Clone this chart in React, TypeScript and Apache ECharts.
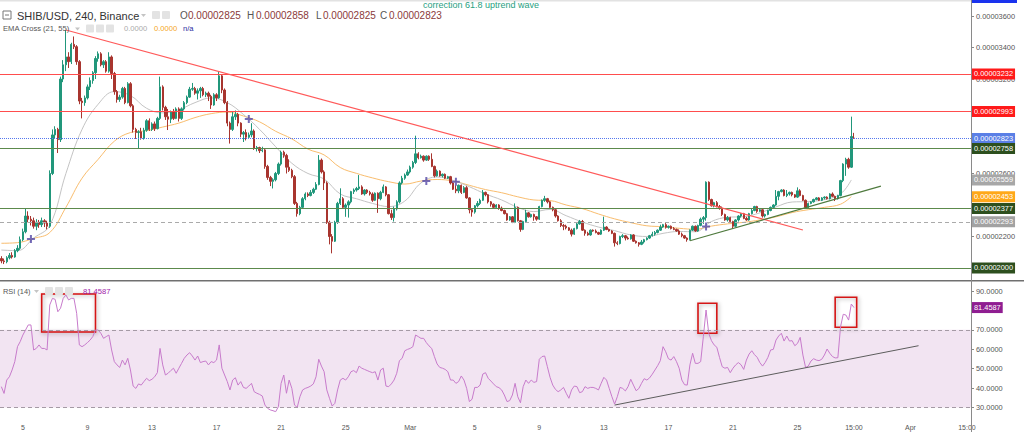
import React, { useEffect, useRef } from "react";
import * as echarts from "echarts";

// ---------- DATA (prices in units of 1e-8 USD) ----------
const opens = [
2060,2045,2040,2065,2080,2070,2110,2125,2180,2230,
2330,2310,2300,2265,2290,2275,2300,2285,2265,2600,
2845,2880,2815,3200,3290,3340,3310,3420,3405,3310,
3060,3050,3080,3150,3190,3240,3330,3360,3290,3310,
3250,3340,3235,3120,3070,3085,3140,3050,3170,3030,
2880,2860,2865,2825,2875,2935,2880,2915,2885,2950,
3150,3020,2960,2945,2990,2950,3010,2950,3010,3050,
3085,3135,3140,3110,3125,3140,3100,3110,3090,3035,
3100,3080,3220,3130,3050,2920,2880,2960,2975,2920,
2850,2860,2830,2845,2870,2760,2765,2745,2750,2645,
2575,2550,2560,2600,2660,2735,2715,2640,2620,2580,
2410,2345,2385,2440,2470,2460,2480,2500,2530,2685,
2610,2540,2290,2200,2170,2290,2410,2440,2385,2400,
2420,2485,2495,2505,2515,2470,2495,2480,2470,2430,
2475,2440,2480,2515,2465,2345,2320,2375,2420,2540,
2570,2590,2610,2640,2670,2725,2700,2710,2685,2710,
2690,2645,2585,2615,2585,2595,2570,2580,2540,2500,
2490,2525,2480,2510,2445,2370,2355,2395,2410,2430,
2480,2465,2420,2405,2385,2400,2380,2365,2345,2305,
2325,2290,2385,2300,2245,2295,2350,2325,2340,2325,
2310,2390,2430,2440,2420,2385,2370,2330,2300,2270,
2265,2255,2240,2215,2250,2280,2295,2240,2220,2210,
2240,2235,2225,2215,2240,2260,2245,2235,2220,2160,
2155,2200,2205,2190,2185,2210,2170,2160,2150,2165,
2180,2190,2205,2215,2225,2240,2260,2275,2258,2265,
2250,2245,2235,2215,2205,2190,2180,2240,2265,2235,
2270,2310,2320,2545,2435,2395,2415,2390,2380,2340,
2305,2320,2295,2265,2305,2330,2345,2315,2305,2345,
2365,2390,2360,2370,2330,2340,2365,2385,2400,2455,
2485,2495,2460,2470,2480,2465,2450,2490,2460,2430,
2385,2410,2420,2435,2445,2430,2445,2450,2440,2470,
2455,2440,2460,2555,2660,2690,2640,2825
];
const closes = [
2045,2040,2065,2080,2070,2110,2125,2180,2230,2330,
2310,2300,2265,2290,2275,2300,2285,2265,2600,2845,
2880,2815,3200,3290,3340,3310,3420,3405,3310,3060,
3050,3080,3150,3190,3240,3330,3360,3290,3310,3250,
3340,3235,3120,3070,3085,3140,3050,3170,3030,2880,
2860,2865,2825,2875,2935,2880,2915,2885,2950,3150,
3020,2960,2945,2990,2950,3010,2950,3010,3050,3085,
3135,3140,3110,3125,3140,3100,3110,3090,3035,3100,
3080,3220,3130,3050,2920,2880,2960,2975,2920,2850,
2860,2830,2845,2870,2760,2765,2745,2750,2645,2575,
2550,2560,2600,2660,2735,2715,2640,2620,2580,2410,
2345,2385,2440,2470,2460,2480,2500,2530,2685,2610,
2540,2290,2200,2170,2290,2410,2440,2385,2400,2420,
2485,2495,2505,2515,2470,2495,2480,2470,2430,2475,
2440,2480,2515,2465,2345,2320,2375,2420,2540,2570,
2590,2610,2640,2670,2725,2700,2710,2685,2710,2690,
2645,2585,2615,2585,2595,2570,2580,2540,2500,2490,
2525,2480,2510,2445,2370,2355,2395,2410,2430,2480,
2465,2420,2405,2385,2400,2380,2365,2345,2305,2325,
2290,2385,2300,2245,2295,2350,2325,2340,2325,2310,
2390,2430,2440,2420,2385,2370,2330,2300,2270,2265,
2255,2240,2215,2250,2280,2295,2240,2220,2210,2240,
2235,2225,2215,2240,2260,2245,2235,2220,2160,2155,
2200,2205,2190,2185,2210,2170,2160,2150,2165,2180,
2190,2205,2215,2225,2240,2260,2275,2258,2265,2250,
2245,2235,2215,2205,2190,2180,2240,2265,2235,2270,
2310,2320,2545,2435,2395,2415,2390,2380,2340,2305,
2320,2295,2265,2305,2330,2345,2315,2305,2345,2365,
2390,2360,2370,2330,2340,2365,2385,2400,2455,2485,
2495,2460,2470,2480,2465,2450,2490,2460,2430,2385,
2410,2420,2435,2445,2430,2445,2450,2440,2470,2455,
2440,2460,2555,2660,2690,2640,2835,2823
];
const lows = [
2030,2025,2030,2055,2060,2065,2100,2115,2170,2220,
2290,2270,2250,2240,2255,2260,2260,2245,2255,2590,
2820,2730,2800,3180,3250,3270,3295,3390,3290,3040,
2950,3030,3070,3130,3170,3200,3310,3280,3270,3240,
3240,3200,3100,3050,3055,3075,3040,3045,3020,2860,
2820,2760,2815,2815,2865,2870,2870,2870,2880,2940,
3000,2940,2876,2920,2940,2945,2930,2940,3000,3040,
3080,3125,3100,3070,3080,3090,3085,3060,3010,3030,
3060,3075,3110,3040,2900,2790,2870,2940,2900,2830,
2800,2810,2820,2830,2750,2740,2730,2735,2630,2560,
2520,2505,2550,2590,2650,2700,2600,2610,2570,2400,
2326,2335,2375,2430,2450,2455,2470,2495,2525,2600,
2495,2280,2150,2093,2165,2280,2400,2375,2325,2320,
2410,2470,2485,2495,2465,2460,2470,2460,2420,2425,
2350,2430,2475,2455,2340,2305,2295,2365,2410,2530,
2560,2585,2600,2630,2660,2690,2695,2675,2680,2680,
2640,2575,2580,2580,2575,2565,2565,2530,2495,2475,
2475,2470,2475,2440,2347,2326,2345,2385,2400,2425,
2455,2410,2390,2380,2380,2370,2360,2340,2300,2300,
2285,2285,2295,2230,2240,2290,2320,2320,2300,2300,
2305,2385,2420,2410,2380,2360,2320,2295,2260,2240,
2245,2235,2200,2210,2245,2275,2235,2205,2205,2205,
2230,2220,2210,2210,2235,2240,2230,2215,2136,2145,
2150,2190,2175,2180,2180,2165,2155,2136,2145,2155,
2175,2185,2200,2205,2220,2235,2255,2250,2250,2245,
2240,2230,2210,2195,2185,2167,2175,2235,2230,2230,
2265,2280,2300,2425,2390,2385,2385,2370,2330,2300,
2295,2290,2254,2260,2295,2320,2310,2300,2300,2340,
2360,2350,2355,2320,2320,2335,2360,2380,2395,2430,
2480,2455,2450,2460,2455,2445,2445,2455,2425,2378,
2380,2405,2415,2430,2425,2425,2435,2435,2435,2450,
2425,2435,2455,2545,2585,2630,2635,2823
];
const highs = [
2075,2060,2075,2095,2100,2120,2145,2200,2250,2378,
2360,2330,2320,2310,2305,2320,2310,2300,2620,2880,
2900,2890,3215,3320,3511,3370,3430,3470,3415,3320,
3080,3095,3165,3210,3250,3345,3375,3370,3320,3320,
3370,3350,3245,3130,3100,3150,3150,3180,3180,3040,
2890,2875,2890,2890,2945,2950,2925,2930,2960,3215,
3160,3030,3010,3000,3010,3020,3020,3020,3060,3095,
3150,3175,3150,3140,3150,3150,3120,3120,3100,3110,
3110,3246,3230,3140,3060,2930,2990,3000,2985,2925,
2870,2880,2860,2919,2880,2775,2770,2770,2760,2655,
2585,2570,2610,2670,2745,2745,2725,2690,2630,2590,
2420,2395,2450,2480,2480,2495,2510,2545,2717,2695,
2620,2550,2300,2215,2300,2420,2506,2450,2410,2430,
2490,2505,2515,2590,2525,2500,2500,2490,2480,2480,
2480,2490,2530,2520,2470,2370,2390,2430,2550,2585,
2600,2625,2650,2680,2840,2735,2720,2715,2715,2715,
2728,2650,2625,2620,2600,2600,2585,2585,2545,2525,
2530,2530,2520,2520,2450,2380,2400,2425,2440,2495,
2485,2470,2425,2410,2405,2405,2390,2370,2350,2330,
2330,2410,2390,2305,2300,2370,2355,2345,2345,2330,
2395,2435,2458,2445,2425,2390,2375,2335,2310,2280,
2275,2260,2250,2255,2290,2305,2305,2245,2230,2245,
2245,2245,2230,2245,2326,2265,2250,2240,2225,2170,
2205,2215,2210,2200,2215,2215,2175,2165,2178,2185,
2195,2210,2230,2235,2245,2275,2280,2285,2270,2270,
2260,2250,2245,2225,2210,2195,2245,2270,2270,2275,
2320,2330,2550,2550,2440,2420,2425,2400,2390,2345,
2330,2325,2300,2310,2335,2350,2350,2325,2350,2375,
2395,2395,2375,2375,2345,2370,2390,2405,2495,2490,
2500,2500,2495,2485,2485,2470,2512,2500,2465,2435,
2415,2425,2440,2450,2450,2450,2455,2455,2475,2480,
2460,2465,2560,2665,2700,2700,2961,2858
];
const rsi = [
40.7,37.2,44.1,45.8,49.3,53.6,61.3,63.9,67.3,69.9,
72.5,72.5,59.6,60.4,62.2,60.4,60.4,59.6,82.8,86.2,
85.7,79.3,81.1,86.2,88,85.4,86.2,86.2,78.5,62.2,
61.3,62.2,63.4,64.7,66.5,69.9,69.9,68.2,65.6,66.5,
67.3,59.6,53.6,51.9,50.6,54.4,51.9,55.3,49.3,41,
39.8,42.1,41.5,43.3,45,43.8,44.5,45.8,47.9,60.4,
51.9,46.7,47.6,49,50.2,47.6,50.2,52.7,55.3,57,
58.2,56.5,54.4,56.5,53.1,53.6,53.9,51.9,53.6,53.1,
54.4,62.2,50.2,46.7,43.3,39,44.1,45.3,41.5,43.3,
40.3,39.8,41,42.4,38.1,37.3,36.7,35.9,31.2,29.5,
28.7,28.3,27.8,30.4,42.4,46.7,37.3,44.1,39.8,31.2,
30,35.5,39,39.8,40.3,41,42.1,45.8,54.8,51.3,
48.4,39,34.7,30.7,32.1,39,44.1,45,44.1,45.8,
48.4,49,47.9,51.3,50.2,49.6,49,48.4,47.9,48.4,
44.1,49.3,50.2,41,40.7,42.1,44.1,47.6,54.1,55.3,
59.2,59.9,60.4,61.3,67.3,66.5,65.6,65.6,63.4,61.7,
60.4,56.2,52.4,50.6,50.2,49.6,48.4,44.1,44.1,42.4,
43.3,46.2,44.1,39.8,33,34.2,40.3,40.3,41.5,47.2,
47.9,45,43.6,42.1,40.7,40.2,39,36.4,33,33.5,
36.4,42.4,35.5,32.4,40.7,44.1,42.4,44.1,42.9,43.3,
54.8,56.2,56.5,51,45.5,41.5,39.3,38.1,39,40.3,
37.3,34.7,39,41,40.7,37.6,38.1,40.7,39.8,40.3,
40.3,39.8,39,42.4,45.5,44.1,39.8,35.5,31.7,35.5,
40.3,39.8,38.5,40.7,44.5,41.5,38.6,39.7,42.4,44.8,
44.1,45.2,47.1,49.3,51.5,54.1,61.3,58.7,55.1,54.4,
56.2,53.6,50.2,44.1,41.7,41.5,51.9,57.9,52.7,52.7,
53.6,66.5,80.2,68.2,64.4,62.2,61,55.8,51,50.2,
50.6,47.9,50.2,51.9,53.1,52,49.6,54.4,57.5,59.2,
57.2,55.8,53.1,51.3,53.2,55.8,59.6,59.9,64.7,66.8,
68.2,64.2,66.8,64.2,64.4,61.8,63,66.1,57,50.6,
51.3,53.9,55.1,54.4,54.1,54.8,57,60.1,57.9,56.2,
55.5,55.6,71.6,78,77.6,75,83.3,81.4587
];
const emaIdx = [0,6,12,18,24,30,36,42,48,54,60,66,72,78,84,90,96,102,108,114,120,126,132,138,144,150,156,162,168,174,180,186,192,198,204,210,216,222,228,234,240,246,252,258,264,270,276,282,288,294,300,306,312,316];
const ema21 = [2114,2110,2190,2270,2600,2880,3040,3120,3095,3014,2985,3005,3050,3080,3050,2975,2880,2770,2665,2600,2565,2470,2440,2410,2390,2425,2540,2578,2556,2516,2470,2432,2385,2358,2372,2332,2292,2260,2237,2210,2200,2220,2232,2230,2295,2322,2326,2350,2388,2419,2422,2434,2470,2559];
const ema55 = [2157,2161,2188,2225,2385,2570,2690,2805,2860,2872,2895,2920,2955,2980,2990,2965,2928,2868,2820,2755,2718,2638,2601,2572,2548,2533,2552,2562,2552,2525,2498,2478,2452,2432,2428,2400,2377,2343,2312,2288,2268,2262,2252,2246,2266,2280,2290,2305,2325,2352,2370,2385,2405,2453];
const crossIdx = [11, 92, 158, 169, 262];
const crossVal = [2184, 2946, 2552, 2548, 2263];
const timeTickIdx = [8,32,56,80,104,128,152,176,200,224,248,272,296,317,338,359];
const timeTickText = ["5","9","13","17","21","25","Mar","5","9","13","17","21","25","15:00","Apr","15:00"];
const priceTicks = [2000,2200,2400,2600,2800,3000,3200,3400,3600];
const priceTickLabels = [2200,2600,3200,3400,3600];
const rsiTicks = [30,40,50,60,70,80,90];
const rsiTickLabels = [30,40,50,60,70,90];
const redLevels = [3232, 2993];
const greenLevels = [2758, 2377, 2000];
const lastPrice = 2823;
const dashedLevel = 2293;
const ema21Last = 2559;
const ema55Last = 2453;
const rsiLast = 81.4587;
const bearTrend = [[24, 3511], [298, 2241]];
const bullTrend = [[256, 2173], [327, 2520]];
const rsiTrend = [[228, 31.2], [341, 61.8]];
const rsiBoxes = [[15, 88.45, 35, 68.9], [259, 83.7, 266, 68.2], [310, 86.75, 318, 71.3]];
const SLOTS = 361;

const F = '"Liberation Sans", Arial, sans-serif';
const fmtP = (v: number) => (v * 1e-8).toFixed(8);

const boxLabel = (bg: string, text?: string) => ({
  show: true,
  position: "end",
  distance: 1,
  formatter: (p: any) => (text !== undefined ? text : fmtP(p.value)),
  backgroundColor: bg,
  color: "#fff",
  fontSize: 7.4,
  fontFamily: F,
  padding: [1.5, 2, 1, 2],
  lineHeight: 8.5,
});

const txt = (x: number, y: number, text: string, size: number, fill: string) => ({
  type: "text",
  x,
  y,
  z: 100,
  silent: true,
  style: { text, fill, font: `${size}px ${F}`, verticalAlign: "middle" },
});
const icon = (x: number, y: number) => ({
  type: "rect",
  z: 100,
  silent: true,
  shape: { x, y, width: 8, height: 8, r: 1 },
  style: { fill: "#e3e3e3" },
});
const arrow = (x: number, y: number) => ({
  type: "polygon",
  z: 100,
  silent: true,
  shape: { points: [[x, y], [x + 5, y], [x + 2.5, y + 3]] },
  style: { fill: "#c4c4c4" },
});

export default function App() {
  const ref = useRef<HTMLDivElement>(null);
  useEffect(() => {
    if (!ref.current) return;
    const chart = echarts.init(ref.current, undefined, { renderer: "svg" });
    const cats = Array.from({ length: SLOTS }, (_, i) => String(i));
    const candles = opens.map((o, i) => [o, closes[i], lows[i], highs[i]]);

    const levelLines: any[] = [];
    redLevels.forEach((v) =>
      levelLines.push({ yAxis: v, lineStyle: { color: "#ff4d4d", width: 1, type: "solid" }, label: boxLabel("#ff1a1a") })
    );
    levelLines.push({ yAxis: lastPrice, lineStyle: { color: "#5577ee", width: 1, type: "dotted" }, label: boxLabel("#5a7fe6") });
    greenLevels.forEach((v) =>
      levelLines.push({ yAxis: v, lineStyle: { color: "#5c8a4c", width: 1.2, type: "solid" }, label: boxLabel("#2d4f1e") })
    );
    levelLines.push({ yAxis: dashedLevel, lineStyle: { color: "#aaaaaa", width: 1, type: [4, 3] }, label: boxLabel("#a2a2a2") });
    levelLines.push({ yAxis: ema21Last, lineStyle: { color: "rgba(0,0,0,0)", width: 0 }, label: boxLabel("#a7a7a7") });
    levelLines.push({ yAxis: ema55Last, lineStyle: { color: "rgba(0,0,0,0)", width: 0 }, label: boxLabel("#ffa81a") });
    levelLines.push([
      { coord: bearTrend[0], lineStyle: { color: "#ff5a5a", width: 1.2, type: "solid" }, label: { show: false } },
      { coord: bearTrend[1] },
    ]);
    levelLines.push([
      { coord: bullTrend[0], lineStyle: { color: "#4f7a3e", width: 1.2, type: "solid" }, label: { show: false } },
      { coord: bullTrend[1] },
    ]);

    const boxAreas = rsiBoxes.map((b) => [
      {
        xAxis: b[0],
        yAxis: b[1],
        itemStyle: {
          color: "rgba(0,0,0,0)",
          borderColor: "#d41515",
          borderWidth: 1.6,
          shadowBlur: 4,
          shadowColor: "rgba(0,0,0,0.35)",
          shadowOffsetX: 1,
          shadowOffsetY: 1,
        },
      },
      { xAxis: b[2], yAxis: b[3] },
    ]);

    const labelSet = new Set(timeTickIdx);

    const option: any = {
      animation: false,
      backgroundColor: "#ffffff",
      grid: [
        { left: 0, top: 0, width: 971, height: 280 },
        { left: 0, top: 282, width: 971, height: 130 },
      ],
      xAxis: [
        { type: "category", gridIndex: 0, data: cats, boundaryGap: true, show: false },
        {
          type: "category",
          gridIndex: 1,
          data: cats,
          boundaryGap: true,
          axisLine: { show: false },
          axisTick: { show: false },
          splitLine: { show: false },
          axisLabel: {
            interval: (i: number) => labelSet.has(i),
            formatter: (v: string) => {
              const k = timeTickIdx.indexOf(Number(v));
              return k >= 0 ? timeTickText[k] : "";
            },
            margin: 12,
            color: "#555",
            fontSize: 7,
            fontFamily: F,
          },
        },
      ],
      yAxis: [
        {
          type: "value",
          gridIndex: 0,
          position: "right",
          min: 1923.8,
          max: 3701.6,
          axisLine: { show: false },
          splitLine: { show: false },
          axisTick: { show: true, length: 3, lineStyle: { color: "#888" }, customValues: priceTicks },
          axisLabel: { customValues: priceTickLabels, formatter: (v: number) => fmtP(v), margin: 5, color: "#555", fontSize: 7.4, fontFamily: F },
        },
        {
          type: "value",
          gridIndex: 1,
          position: "right",
          min: 27.63,
          max: 94.64,
          axisLine: { show: false },
          splitLine: { show: false },
          axisTick: { show: true, length: 3, lineStyle: { color: "#888" }, customValues: rsiTicks },
          axisLabel: { customValues: rsiTickLabels, formatter: (v: number) => v.toFixed(4), margin: 5, color: "#555", fontSize: 7.4, fontFamily: F },
        },
      ],
      series: [
        {
          type: "line",
          xAxisIndex: 0,
          yAxisIndex: 0,
          data: emaIdx.map((x, k) => [x, ema55[k]]),
          smooth: 0.4,
          symbol: "none",
          lineStyle: { color: "#f9bd6e", width: 1 },
          z: 1,
        },
        {
          type: "line",
          xAxisIndex: 0,
          yAxisIndex: 0,
          data: emaIdx.map((x, k) => [x, ema21[k]]),
          smooth: 0.4,
          symbol: "none",
          lineStyle: { color: "#c4c4c4", width: 1 },
          z: 1,
        },
        {
          type: "candlestick",
          xAxisIndex: 0,
          yAxisIndex: 0,
          data: candles,
          barWidth: 1.9,
          itemStyle: {
            color: "#21977b",
            color0: "#a8352f",
            borderColor: "#21977b",
            borderColor0: "#a8352f",
            borderWidth: 1,
          },
          markLine: { symbol: ["none", "none"], silent: true, animation: false, data: levelLines },
          z: 2,
        },
        {
          type: "scatter",
          xAxisIndex: 0,
          yAxisIndex: 0,
          data: crossIdx.map((x, k) => [x, crossVal[k]]),
          symbol: "path://M3,0H5V3H8V5H5V8H3V5H0V3H3Z",
          symbolSize: 8,
          itemStyle: { color: "#5447a6" },
          z: 5,
        },
        {
          type: "line",
          xAxisIndex: 1,
          yAxisIndex: 1,
          data: rsi,
          symbol: "none",
          lineStyle: { color: "#c77bcb", width: 1 },
          z: 3,
          markArea: {
            silent: true,
            data: [[{ yAxis: 30, itemStyle: { color: "#f2e4f2" } }, { yAxis: 70 }], ...boxAreas],
          },
          markLine: {
            symbol: ["none", "none"],
            silent: true,
            data: [
              { yAxis: 70, lineStyle: { color: "#a59aa5", width: 1, type: [4, 3] }, label: { show: false } },
              { yAxis: 30, lineStyle: { color: "#a59aa5", width: 1, type: [4, 3] }, label: { show: false } },
              { yAxis: rsiLast, lineStyle: { color: "rgba(0,0,0,0)", width: 0 }, label: boxLabel("#8f1d91", rsiLast.toFixed(4)) },
              [
                { coord: rsiTrend[0], lineStyle: { color: "#5d5d5d", width: 1, type: "solid" }, label: { show: false } },
                { coord: rsiTrend[1] },
              ],
            ],
          },
        },
      ],
      graphic: [
        { type: "rect", z: 90, silent: true, shape: { x: 0, y: 0, width: 971, height: 1.5 }, style: { fill: "#e2e2e2" } },
        { type: "rect", z: 90, silent: true, shape: { x: 972, y: 0, width: 45, height: 3 }, style: { fill: "#1a33ee" } },
        { type: "rect", z: 90, silent: true, shape: { x: 0, y: 280, width: 1024, height: 1.5 }, style: { fill: "#707070" } },
        { type: "line", z: 90, silent: true, shape: { x1: 971.5, y1: 0, x2: 971.5, y2: 432 }, style: { stroke: "#8a8a8a", lineWidth: 1 } },
        // header line 1
        { type: "rect", z: 100, silent: true, shape: { x: 3, y: 11, width: 8, height: 8 }, style: { fill: "none", stroke: "#777", lineWidth: 1 } },
        { type: "line", z: 100, silent: true, shape: { x1: 5, y1: 15, x2: 9, y2: 15 }, style: { stroke: "#777", lineWidth: 1 } },
        txt(17, 15.5, "SHIB/USD, 240, Binance", 11, "#333"),
        arrow(141, 14),
        icon(152, 11),
        icon(162, 11),
        txt(180, 15.5, "O", 10, "#555"),
        txt(188, 15.5, "0.00002825", 10, "#8b3a3a"),
        txt(247, 15.5, "H", 10, "#555"),
        txt(256, 15.5, "0.00002858", 10, "#8b3a3a"),
        txt(316, 15.5, "L", 10, "#555"),
        txt(323, 15.5, "0.00002825", 10, "#8b3a3a"),
        txt(380, 15.5, "C", 10, "#555"),
        txt(389, 15.5, "0.00002823", 10, "#8b3a3a"),
        txt(423, 5, "correction 61.8 uptrend wave", 9, "#27a07f"),
        // header line 2
        txt(3, 28.5, "EMA Cross (21, 55)", 7.6, "#555"),
        arrow(75, 27.5),
        icon(86, 24.5),
        icon(96, 24.5),
        icon(106, 24.5),
        txt(124, 28.5, "0.0000", 7.6, "#aaaaaa"),
        txt(154, 28.5, "0.0000", 7.6, "#f5a623"),
        txt(183, 28.5, "n/a", 7.6, "#2b2ba0"),
        // RSI header
        txt(3, 291, "RSI (14)", 7.4, "#555"),
        arrow(34, 290),
        icon(45, 287),
        icon(55, 287),
        icon(65, 287),
        txt(83, 291, rsiLast.toFixed(4), 7.6, "#a020a8"),
      ],
    };
    chart.setOption(option);
    return () => chart.dispose();
  }, []);
  return (
    <div
      ref={ref}
      style={{ position: "fixed", left: 0, top: 0, width: 1024, height: 432, background: "#fff" }}
    />
  );
}
